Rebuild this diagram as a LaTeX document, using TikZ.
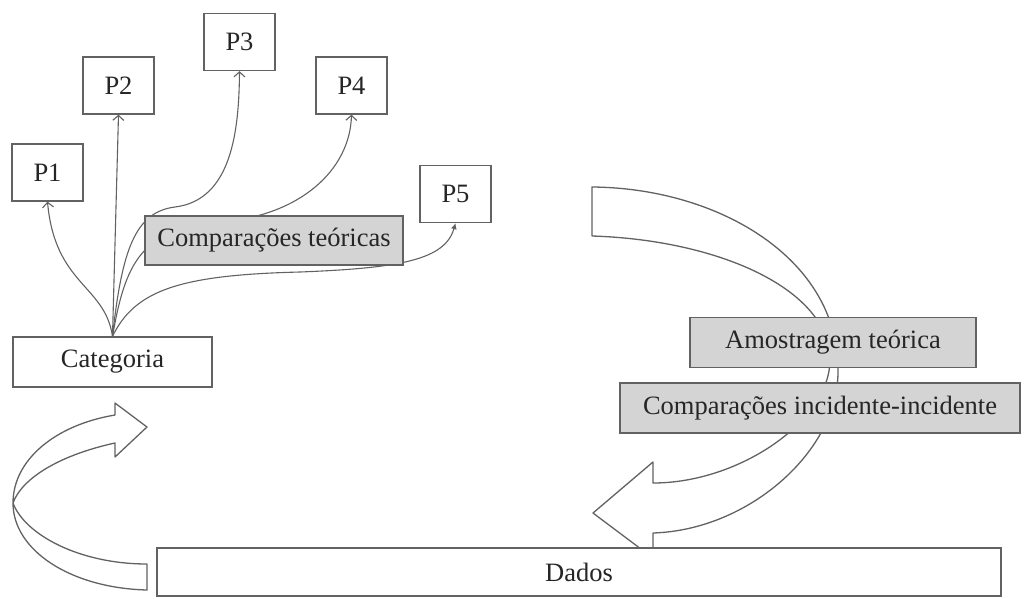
\documentclass[tikz,border=0pt]{standalone}
\usepackage{fontspec}
\setmainfont{Liberation Serif}
\usetikzlibrary{arrows.meta,backgrounds}
\definecolor{linegray}{HTML}{626262}
\definecolor{boxgray}{HTML}{D4D4D4}
\definecolor{textgray}{HTML}{262626}
\tikzstyle{pbox} = [rectangle, minimum width = 71pt, minimum height = 57pt, inner sep = 0pt, draw = linegray, line width = 1.3pt, fill = white, text = textgray]
\tikzstyle{wide} = [rectangle, minimum height = 50pt, inner sep = 0pt, draw = linegray, line width = 1.3pt, fill = white, text = textgray]
\tikzstyle{grey} = [wide, fill = boxgray]
\tikzstyle{arrow} = [line width = 1.1pt, draw = linegray, -{Straight Barb[length=5pt, width=11pt]}]
\tikzstyle{bigarrow} = [line width = 1.3pt, draw = linegray, fill = white, line join = round]

\begin{document}
\begin{tikzpicture}[x = 1pt, y = -1pt, font = \fontsize{26.5}{30}\selectfont]
\useasboundingbox (0,0) rectangle (1026,598);

\node(p1) [pbox] at (47.5,172.5) {P1};
\node(p2) [pbox] at (118.5,85.5) {P2};
\node(p3) [pbox] at (239.5,42) {P3};
\node(p4) [pbox] at (351.5,85.5) {P4};
\node(p5) [pbox] at (455.5,194) {P5};
\node(teo) [grey, minimum width = 258pt, minimum height = 49pt] at (274,240.5) {Comparações teóricas};
\node(cat) [wide, minimum width = 199pt] at (112.5,362) {Categoria};
\node(amo) [grey, minimum width = 286pt] at (833,342.5) {Amostragem teórica};
\node(inc) [grey, minimum width = 400pt] at (820,408) {Comparações incidente-incidente};
\node(dados) [wide, minimum width = 844pt, minimum height = 48pt] at (579,572) {Dados};

\begin{pgfonlayer}{background}
% fan of links from the category
\draw [arrow] (cat.north) .. controls (105,285) and (55,285) .. (p1.south);
\draw [arrow] (cat.north) -- (p2.south);
\draw [arrow] (cat.north) .. controls (122,250) and (135,212) .. (175,207) .. controls (232,200) and (239,130) .. (p3.south);
\draw [arrow] (cat.north) .. controls (125,265) and (140,228) .. (220,222) .. controls (300,216) and (350,170) .. (p4.south);
\draw [line width = 1.1pt, draw = linegray, -{Latex[length=6pt, width=6pt]}] (cat.north) .. controls (135,290) and (180,275) .. (300,272) .. controls (400,268) and (445,260) .. (p5.south);

% loop arrows
\draw [bigarrow] (147,590) .. controls (70,588) and (13,550) .. (13,503) .. controls (13,460) and (55,425) .. (115,415) -- (115,403) -- (147,427) -- (115,457) -- (115,443) .. controls (60,455) and (22,478) .. (13,503) .. controls (25,535) and (80,564) .. (147,564) -- cycle;
\draw [bigarrow] (592,187) .. controls (720,188) and (840,260) .. (838,372) .. controls (838,450) and (750,530) .. (653,533) -- (653,558) -- (593,513) -- (653,462) -- (653,483) .. controls (740,483) and (830,420) .. (830,360) .. controls (830,290) and (720,240) .. (592,236) -- cycle;
\end{pgfonlayer}

\end{tikzpicture}
\end{document}
